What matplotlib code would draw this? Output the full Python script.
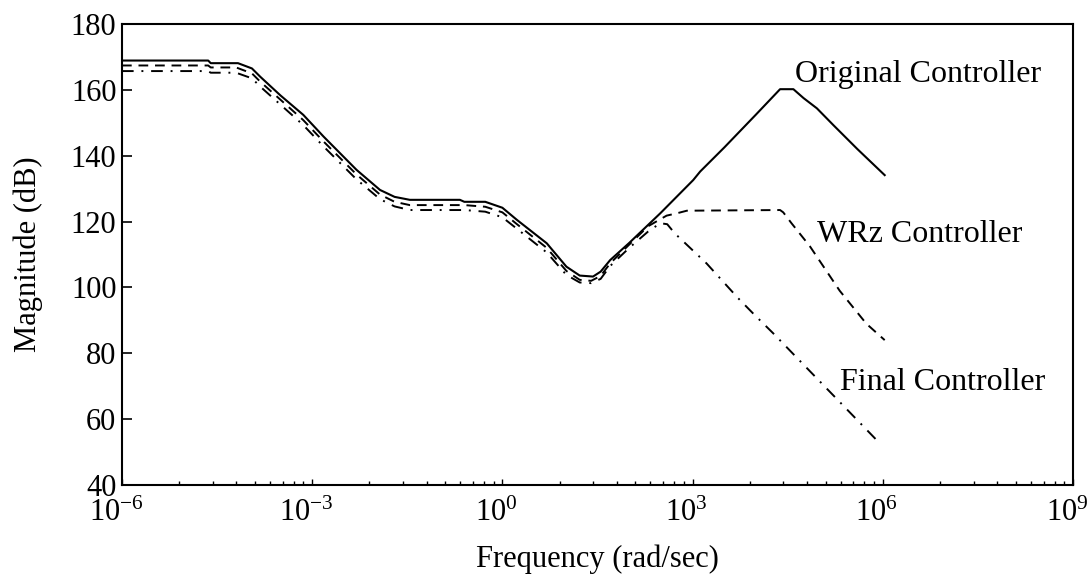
import numpy as np
import matplotlib
matplotlib.use("Agg")
import matplotlib.pyplot as plt
import matplotlib.transforms as mtransforms
from matplotlib.ticker import NullFormatter

plt.rcParams['font.family'] = ['Liberation Serif', 'DejaVu Serif']
plt.rcParams['mathtext.fontset'] = 'custom'
plt.rcParams['mathtext.rm'] = 'Liberation Serif'

# log10 of frequency (rad/sec) and magnitude (dB)
orig_logw = [-6, -4.64, -4.6, -4.17, -3.95, -3.82, -3.5, -3.14, -2.82, -2.30, -1.93,
             -1.7, -1.46, -0.67, -0.6, -0.27, 0.0, 0.23, 0.70, 1.01, 1.22, 1.43, 1.55,
             1.70, 2.0, 2.49, 3.01, 3.12, 3.5, 4.0, 4.38, 4.59, 4.75, 4.96, 5.22, 5.6, 6.03]
orig_mag = [168.9, 168.9, 168.1, 168.1, 166.5, 164.0, 158.3, 152.4, 145.8, 135.7, 129.6,
            127.5, 126.6, 126.6, 126.0, 126.0, 124.2, 120.5, 113.4, 106.3, 103.6, 103.3, 104.8,
            108.3, 113.5, 122.5, 132.6, 135.2, 142.5, 152.5, 160.2, 160.2, 157.5, 154.4, 149.3, 142.0, 134.1]

wrz_logw = [-6, -4.64, -4.6, -4.2, -3.95, -3.82, -3.5, -3.14, -2.82, -2.30, -1.93,
            -1.7, -1.46, -0.6, -0.27, 0.0, 0.23, 0.70, 1.01, 1.22, 1.40, 1.55, 1.70,
            2.0, 2.3, 2.59, 2.75, 2.91, 4.38, 4.43, 4.56, 4.85, 5.32, 5.74, 6.03]
wrz_mag = [167.4, 167.4, 166.8, 166.8, 165.0, 162.5, 157.0, 150.8, 144.3, 134.3, 128.2,
           126.0, 125.0, 125.0, 124.5, 122.8, 119.2, 112.0, 105.0, 102.3, 102.0, 103.5, 107.3,
           113.0, 118.6, 121.8, 122.5, 123.3, 123.5, 122.8, 119.5, 112.5, 99.0, 89.0, 84.0]

final_logw = [-6, -4.64, -4.6, -4.2, -3.95, -3.82, -3.5, -3.14, -2.82, -2.30, -1.93,
              -1.7, -1.46, -0.6, -0.27, 0.0, 0.23, 0.70, 1.01, 1.22, 1.40, 1.55, 1.70,
              2.0, 2.3, 2.49, 2.6, 2.72, 3.22, 3.72, 3.98, 4.27, 5.90]
final_mag = [165.7, 165.7, 165.2, 165.2, 163.5, 161.0, 155.5, 149.3, 142.8, 132.8, 126.8,
             124.6, 123.5, 123.5, 123.0, 121.3, 117.8, 110.6, 103.8, 101.5, 101.3, 102.6, 106.5,
             112.0, 117.0, 119.5, 119.2, 116.4, 107.3, 96.7, 91.6, 86.1, 53.7]

labels = ["Original Controller", "WRz Controller", "Final Controller"]
label_pos = [(4.615, 162.5), (4.96, 113.9), (5.325, 68.9)]

y_ticks = [40, 60, 80, 100, 120, 140, 160, 180]
x_tick_exp = [-6, -3, 0, 3, 6, 9]

fig = plt.figure(figsize=(10.89, 5.78), dpi=100)
ax = fig.add_axes([0.1120, 0.1609, 0.8733, 0.7976])

ax.plot(10.0 ** np.array(orig_logw), orig_mag, color='black', lw=1.5)
ax.plot(10.0 ** np.array(wrz_logw), wrz_mag, color='black', lw=1.4, ls=(0, (5, 3.5)))
ax.plot(10.0 ** np.array(final_logw), final_mag, color='black', lw=1.4, ls=(0, (6, 4, 1, 4)))

for txt, (lx, ly) in zip(labels, label_pos):
    ax.text(10.0 ** lx, ly, txt, fontsize=23, ha='left', va='baseline')

ax.set_xscale('log')
ax.set_xlim(1e-6, 1e9)
ax.set_ylim(40, 180)

# major ticks every 3 decades, minor ticks at k^3 inside each 3-decade span
ax.set_xticks([10.0 ** e for e in x_tick_exp])
ax.set_xticklabels([r'$\mathregular{10^{%d}}$' % e for e in x_tick_exp])
minor = []
for e in x_tick_exp[:-1]:
    for k in range(2, 10):
        minor.append(k ** 3 * 10.0 ** e)
ax.set_xticks(minor, minor=True)
ax.xaxis.set_minor_formatter(NullFormatter())
ax.set_yticks(y_ticks)

ax.tick_params(axis='both', which='both', direction='in', labelsize=22, color='black')
ax.tick_params(axis='y', which='major', length=7, width=1.2, pad=4)
ax.tick_params(axis='x', which='major', length=4, width=1.0, pad=10)
ax.tick_params(axis='x', which='minor', length=3, width=1.0)
ax.tick_params(top=False, right=False, which='both')

offset = mtransforms.ScaledTranslation(-6 / 100, 0, fig.dpi_scale_trans)
for lab in ax.get_xticklabels():
    lab.set_transform(lab.get_transform() + offset)

for sp in ax.spines.values():
    sp.set_linewidth(1.5)

ax.set_xlabel("Frequency (rad/sec)", fontsize=22, labelpad=12)
ax.set_ylabel("Magnitude (dB)", fontsize=22, labelpad=20)

fig.savefig("out.png", dpi=100)
